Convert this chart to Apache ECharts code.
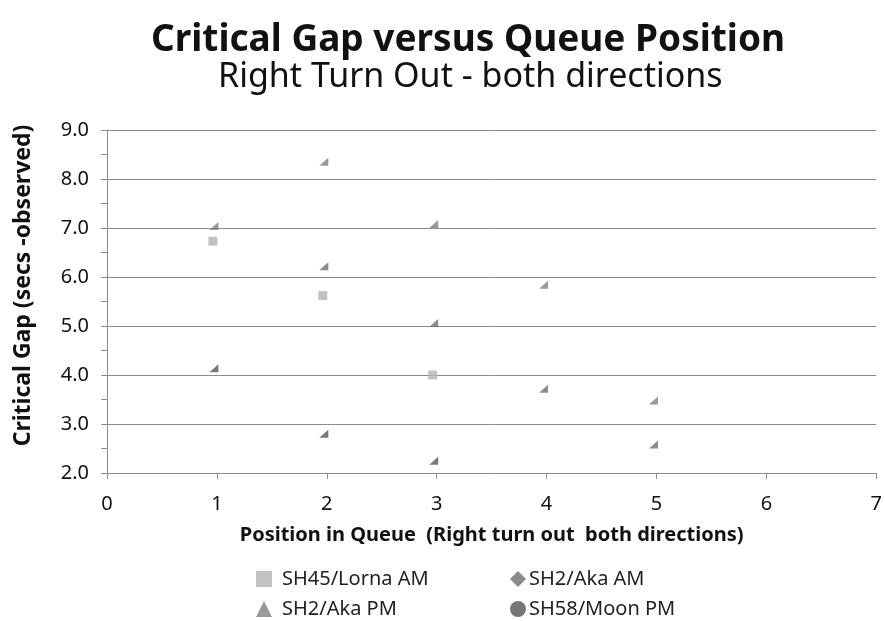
<!DOCTYPE html>
<html>
<head>
<meta charset="utf-8">
<script src="https://cdn.jsdelivr.net/npm/echarts@6/dist/echarts.min.js"></script>
<style>
  html, body { margin: 0; padding: 0; background: #fff; }
  #main { width: 885px; height: 621px; }
</style>
</head>
<body>
<div id="main"></div>
<script>
// series data: [position in queue, critical gap]
const lornaAM = [[1, 6.73], [2, 5.62], [3, 4.0]];
const akaAM = [[2, 6.22], [3, 5.06], [4, 3.72], [5, 2.58]];
const akaPM = [[1, 7.04], [2, 8.35], [3, 7.08], [4, 5.84], [5, 3.48]];
const moonPM = [[1, 4.14], [2, 2.8], [3, 2.25]];

const seriesNames = ['SH45/Lorna AM', 'SH2/Aka AM', 'SH2/Aka PM', 'SH58/Moon PM'];
const legendIcons = ['rect', 'diamond', 'triangle', 'circle'];
const colors = ['#b3b3b3', '#6e6e6e', '#7f7f7f', '#555555'];

const font = 'Noto Sans';
const wedge = 'path://M0,10 L10,0 L10,10 Z';

const chart = echarts.init(document.getElementById('main'));

// one legend per item so the two columns line up
const legendPos = [[251, 564], [505, 564], [251, 594], [505, 594]];
const legends = seriesNames.map((name, i) => ({
    data: [{ name: name, icon: legendIcons[i] }],
    left: legendPos[i][0],
    top: legendPos[i][1],
    itemWidth: 16,
    itemHeight: 16,
    itemGap: 4,
    textStyle: {
        fontFamily: font, fontSize: 20, color: '#222',
        padding: [0, 0, 0, i % 2 === 0 ? 5 : -2]
    }
}));

const option = {
    animation: false,
    title: [
        {
            text: 'Critical Gap versus Queue Position',
            left: 146,
            top: 17,
            textStyle: { fontFamily: font, fontSize: 37, fontWeight: 'bold', color: '#111' }
        },
        {
            text: 'Right Turn Out - both directions',
            left: 213,
            top: 55,
            textStyle: { fontFamily: font, fontSize: 34, fontWeight: 'normal', color: '#111' }
        }
    ],
    legend: legends,
    grid: { left: 107, right: 6, top: 130, bottom: 148 },
    xAxis: {
        type: 'value',
        min: 0,
        max: 7,
        interval: 1,
        name: 'Position in Queue  (Right turn out  both directions)',
        nameLocation: 'middle',
        nameGap: 52,
        nameTextStyle: { fontFamily: font, fontSize: 20, fontWeight: 'bold', color: '#111' },
        axisLine: { lineStyle: { color: '#8c8c8c', width: 1 } },
        axisTick: { show: true, length: 6, lineStyle: { color: '#8c8c8c' } },
        axisLabel: { fontFamily: font, fontSize: 20, color: '#111', margin: 21 },
        splitLine: { show: false }
    },
    yAxis: {
        type: 'value',
        min: 2,
        max: 9,
        interval: 1,
        name: 'Critical Gap (secs -observed)',
        nameLocation: 'middle',
        nameGap: 72,
        nameTextStyle: { fontFamily: font, fontSize: 23, fontWeight: 'bold', color: '#111', padding: [0, 0, 0, 32] },
        axisLine: { show: true, lineStyle: { color: '#8c8c8c', width: 1 } },
        axisTick: { show: true, length: 6, lineStyle: { color: '#8c8c8c' } },
        minorTick: { show: true, splitNumber: 2, length: 6, lineStyle: { color: '#8c8c8c' } },
        axisLabel: {
            fontFamily: font, fontSize: 20, color: '#111', margin: 18,
            formatter: v => v.toFixed(1)
        },
        splitLine: { show: true, lineStyle: { color: '#8c8c8c', width: 1 } }
    },
    series: [
        { name: seriesNames[0], type: 'scatter', data: lornaAM, symbol: 'rect', symbolSize: 9, symbolOffset: [-4, 0], itemStyle: { color: colors[0] } },
        { name: seriesNames[1], type: 'scatter', data: akaAM, symbol: wedge, symbolSize: [9, 8], symbolOffset: [-3, 0], itemStyle: { color: colors[1] } },
        { name: seriesNames[2], type: 'scatter', data: akaPM, symbol: wedge, symbolSize: [9, 8], symbolOffset: [-3, 0], itemStyle: { color: colors[2] } },
        { name: seriesNames[3], type: 'scatter', data: moonPM, symbol: wedge, symbolSize: [9, 8], symbolOffset: [-3, 0], itemStyle: { color: colors[3] } }
    ]
};

chart.setOption(option);
</script>
</body>
</html>
